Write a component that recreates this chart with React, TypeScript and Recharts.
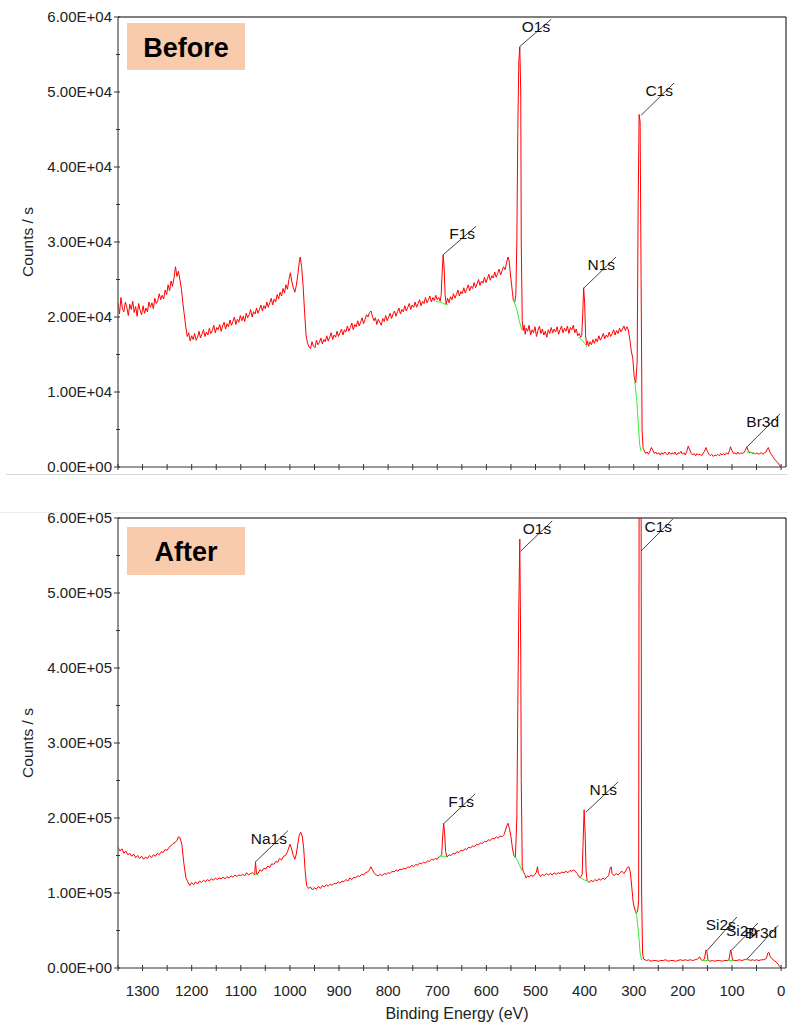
import React from "react";
import { LineChart, Line, XAxis, YAxis, ReferenceLine } from "recharts";

// XPS survey spectra, binding energy (eV) vs counts / s
const beforeSpectrum: [number, number][] = [
  [1350, 21900], [1347, 20400], [1344, 22600], [1341, 21100], [1338, 20700], [1335, 22000], [1332, 21300],
  [1329, 20200], [1326, 21700], [1323, 21000], [1320, 22100], [1317, 20600], [1314, 21400], [1311, 20100],
  [1308, 21800], [1305, 20900], [1302, 20300], [1299, 21500], [1296, 20500], [1293, 21200], [1290, 20700],
  [1287, 22000], [1284, 21300], [1281, 21900], [1278, 21100], [1275, 22500], [1272, 21800], [1269, 22200],
  [1266, 23100], [1263, 22300], [1260, 22900], [1257, 22400], [1254, 23600], [1251, 23000], [1248, 24300],
  [1245, 23500], [1242, 24800], [1239, 24100], [1236, 25200], [1233, 26700], [1230, 25400], [1227, 26100],
  [1224, 25000], [1221, 23800], [1218, 21900], [1215, 20300], [1212, 18700], [1209, 17400], [1206, 17900],
  [1203, 16800], [1200, 17500], [1197, 17000], [1194, 17800], [1191, 16900], [1188, 17300], [1185, 18100],
  [1182, 17200], [1179, 17700], [1176, 18300], [1173, 17400], [1170, 18000], [1167, 17600], [1164, 18500],
  [1161, 17800], [1158, 18200], [1155, 18900], [1152, 17900], [1149, 18600], [1146, 18300], [1143, 19000],
  [1140, 18100], [1137, 18800], [1134, 19300], [1131, 18400], [1128, 19100], [1125, 18700], [1122, 19600],
  [1119, 18900], [1116, 19400], [1113, 20000], [1110, 19000], [1107, 19700], [1104, 19300], [1101, 20200],
  [1098, 19500], [1095, 20100], [1092, 19400], [1089, 20500], [1086, 19900], [1083, 20300], [1080, 21000],
  [1077, 20000], [1074, 20700], [1071, 20400], [1068, 21200], [1065, 20500], [1062, 21000], [1059, 21600],
  [1056, 20800], [1053, 21500], [1050, 21100], [1047, 22000], [1044, 21300], [1041, 21900], [1038, 22500],
  [1035, 21600], [1032, 22400], [1029, 22000], [1026, 23000], [1023, 22400], [1020, 23300], [1017, 22800],
  [1014, 23800], [1011, 23200], [1008, 24300], [1005, 23700], [1002, 25000], [999, 25900], [996, 24700],
  [993, 23900], [990, 23300], [987, 24200], [984, 25600], [981, 27300], [979, 28000], [976, 26600],
  [973, 24000], [970, 20500], [967, 17500], [964, 16500], [961, 16000], [958, 15800], [955, 16700],
  [952, 16100], [949, 15900], [946, 16900], [943, 16300], [940, 16600], [937, 17200], [934, 16400],
  [931, 17000], [928, 16700], [925, 17500], [922, 16800], [919, 17300], [916, 17900], [913, 17000],
  [910, 17600], [907, 17300], [904, 18100], [901, 17400], [898, 17900], [895, 18400], [892, 17600],
  [889, 18300], [886, 18000], [883, 18800], [880, 18100], [877, 18600], [874, 19200], [871, 18300],
  [868, 19000], [865, 18700], [862, 19500], [859, 18800], [856, 19300], [853, 19900], [850, 19100],
  [847, 19700], [844, 20300], [841, 20000], [838, 20600], [835, 20800], [832, 20100], [829, 19500],
  [826, 19900], [823, 19000], [820, 19700], [817, 19300], [814, 18900], [811, 19800], [808, 19400],
  [805, 20200], [802, 19500], [799, 20000], [796, 20500], [793, 19800], [790, 20400], [787, 20800],
  [784, 20100], [781, 20700], [778, 21200], [775, 20400], [772, 21000], [769, 20700], [766, 21500],
  [763, 20800], [760, 21300], [757, 21800], [754, 21000], [751, 21600], [748, 21300], [745, 22000],
  [742, 21300], [739, 21800], [736, 22300], [733, 21500], [730, 22100], [727, 21800], [724, 22600],
  [721, 21900], [718, 22300], [715, 22800], [712, 22000], [709, 22600], [706, 22200], [703, 22900],
  [700, 22300], [697, 22600], [694, 22100], [692, 23000], [690, 26000], [688, 28300], [686, 26500],
  [684, 23000], [682, 21700], [679, 22500], [676, 21900], [673, 22700], [670, 22300], [667, 23100],
  [664, 22500], [661, 23000], [658, 23600], [655, 22800], [652, 23400], [649, 23100], [646, 23900],
  [643, 23200], [640, 23700], [637, 24300], [634, 23500], [631, 24100], [628, 23800], [625, 24600],
  [622, 23900], [619, 24400], [616, 25000], [613, 24200], [610, 24800], [607, 24500], [604, 25300],
  [601, 24600], [598, 25100], [595, 25700], [592, 24900], [589, 25500], [586, 25200], [583, 26000],
  [580, 25300], [577, 25800], [574, 26400], [571, 25600], [568, 26200], [565, 26700], [562, 26300],
  [559, 27200], [556, 28000], [554, 27600], [552, 26300], [549, 24500], [547, 23300], [545, 22200],
  [542, 22000], [540, 23000], [538, 30000], [536, 45000], [534, 54000], [532, 56000], [530, 50000],
  [529, 30000], [527, 19500], [525, 18200], [523, 18900], [521, 17700], [519, 18500], [516, 18100],
  [513, 18900], [510, 17600], [507, 18300], [504, 17900], [501, 18700], [498, 17400], [495, 18200],
  [492, 18800], [489, 17800], [486, 18400], [483, 17600], [480, 18100], [477, 17300], [474, 18300],
  [471, 17800], [468, 18600], [465, 17900], [462, 18400], [459, 18000], [456, 18700], [453, 17700],
  [450, 18300], [447, 18800], [444, 17900], [441, 18500], [438, 18100], [435, 18800], [432, 17800],
  [429, 18600], [426, 18300], [423, 18900], [420, 17900], [417, 18400], [414, 17500], [411, 17800],
  [408, 17300], [406, 17500], [404, 20000], [402, 23900], [400, 22000], [398, 17500], [396, 16300],
  [394, 16800], [392, 16100], [389, 16700], [386, 16300], [383, 17000], [380, 16500], [377, 17100],
  [374, 16700], [371, 17500], [368, 16900], [365, 17300], [362, 17800], [359, 17100], [356, 17600],
  [353, 17300], [350, 18000], [347, 17400], [344, 17800], [341, 18300], [338, 17600], [335, 18200],
  [332, 17800], [329, 18500], [326, 18000], [323, 18400], [320, 18800], [317, 18200], [314, 18700],
  [311, 18300], [308, 17000], [305, 15500], [302, 14500], [299, 12000], [296, 11200], [293, 14000],
  [291, 35000], [289, 47000], [287, 46000], [285, 25000], [283, 5000], [281, 2500], [278, 2100],
  [276, 1800], [273, 2000], [270, 1700], [267, 2100], [264, 2600], [261, 2200], [258, 1800],
  [255, 2000], [252, 1700], [249, 1900], [246, 1600], [243, 1900], [240, 1700], [237, 2000],
  [234, 1800], [231, 1600], [228, 2000], [225, 1700], [222, 1900], [219, 1700], [216, 2000],
  [213, 1600], [210, 1900], [207, 1800], [204, 2100], [201, 1700], [198, 1900], [195, 1600],
  [192, 2100], [189, 2800], [186, 2300], [183, 1800], [180, 1600], [177, 1800], [174, 1500],
  [171, 1800], [168, 1600], [165, 1700], [162, 1500], [159, 1800], [156, 2100], [153, 2600],
  [150, 2100], [147, 1700], [144, 1500], [141, 1700], [138, 1400], [135, 1600], [132, 1500],
  [129, 1700], [126, 1500], [123, 1800], [120, 1600], [117, 1800], [114, 1600], [111, 1900],
  [108, 1700], [105, 2200], [103, 2700], [100, 2200], [97, 1800], [94, 1900], [91, 1700],
  [88, 2000], [85, 1700], [82, 1900], [79, 1800], [76, 1900], [73, 2200], [70, 2700], [67, 2200],
  [64, 1900], [61, 2000], [58, 1800], [55, 1900], [52, 1700], [49, 1900], [46, 1700], [43, 1800],
  [40, 1900], [37, 1700], [34, 1900], [31, 2000], [28, 2400], [26, 2600], [23, 2000], [20, 1700],
  [17, 1400], [14, 1100], [10, 800], [7, 600], [4, 300], [2, 100], [0, 0],
];

const afterSpectrum: [number, number][] = [
  [1350, 161000], [1346, 156000], [1342, 159000], [1338, 153000], [1334, 156000], [1330, 151000],
  [1326, 153000], [1322, 149000], [1318, 152000], [1314, 147000], [1310, 150000], [1306, 146000],
  [1302, 149000], [1298, 145000], [1294, 148000], [1290, 146000], [1286, 150000], [1282, 147000],
  [1278, 151000], [1274, 149000], [1270, 153000], [1266, 151000], [1262, 155000], [1258, 154000],
  [1254, 158000], [1250, 157000], [1246, 161000], [1242, 163000], [1238, 166000], [1234, 167000],
  [1230, 170000], [1227, 175000], [1224, 174000], [1220, 165000], [1216, 140000], [1212, 121000],
  [1208, 115000], [1204, 110000], [1200, 114000], [1196, 111000], [1192, 115000], [1188, 112000],
  [1184, 116000], [1180, 114000], [1176, 117000], [1172, 115000], [1168, 118000], [1164, 116000],
  [1160, 119000], [1156, 117000], [1152, 120000], [1148, 118000], [1144, 120000], [1140, 119000],
  [1136, 121000], [1132, 119000], [1128, 122000], [1124, 120000], [1120, 123000], [1116, 121000],
  [1112, 124000], [1108, 122000], [1104, 124000], [1100, 123000], [1096, 125000], [1092, 123000],
  [1088, 127000], [1084, 124000], [1080, 126000], [1076, 127000], [1072, 124000], [1070, 141000],
  [1068, 126000], [1065, 126000], [1061, 131000], [1057, 129000], [1053, 133000], [1049, 132000],
  [1045, 136000], [1041, 134000], [1037, 139000], [1033, 138000], [1029, 142000], [1025, 141000],
  [1021, 146000], [1017, 144000], [1013, 149000], [1009, 150000], [1005, 155000], [1000, 165000],
  [997, 160000], [993, 150000], [990, 145000], [987, 152000], [984, 165000], [981, 177000],
  [978, 181000], [975, 176000], [972, 160000], [969, 130000], [966, 110000], [962, 106000],
  [958, 108000], [954, 104000], [950, 107000], [946, 105000], [942, 109000], [938, 106000],
  [934, 110000], [930, 108000], [926, 111000], [922, 109000], [918, 112000], [914, 110000],
  [910, 113000], [906, 112000], [902, 115000], [898, 113000], [894, 116000], [890, 115000],
  [886, 118000], [882, 116000], [878, 120000], [874, 118000], [870, 121000], [866, 120000],
  [862, 123000], [858, 122000], [854, 125000], [850, 124000], [846, 127000], [842, 128000],
  [838, 131000], [835, 135000], [832, 131000], [828, 126000], [824, 124000], [820, 123000],
  [816, 125000], [812, 123000], [808, 126000], [804, 125000], [800, 127000], [796, 126000],
  [792, 129000], [788, 128000], [784, 131000], [780, 129000], [776, 132000], [772, 131000],
  [768, 133000], [764, 132000], [760, 135000], [756, 134000], [752, 137000], [748, 135000],
  [744, 138000], [740, 137000], [736, 140000], [732, 139000], [728, 141000], [724, 140000],
  [720, 143000], [716, 142000], [712, 145000], [708, 144000], [704, 146000], [700, 145000],
  [697, 148000], [694, 149000], [691, 151000], [689, 175000], [687, 193000], [685, 180000],
  [683, 155000], [680, 148000], [676, 151000], [672, 150000], [668, 153000], [664, 152000],
  [660, 155000], [656, 154000], [652, 157000], [648, 156000], [644, 159000], [640, 158000],
  [636, 161000], [632, 160000], [628, 163000], [624, 162000], [620, 165000], [616, 164000],
  [612, 167000], [608, 166000], [604, 169000], [600, 168000], [596, 171000], [592, 170000],
  [588, 173000], [584, 172000], [580, 175000], [576, 173000], [572, 176000], [568, 175000],
  [564, 178000], [561, 184000], [558, 190000], [556, 193000], [553, 186000], [550, 175000],
  [547, 160000], [544, 150000], [541, 147000], [538, 200000], [536, 350000], [534, 480000],
  [532, 572000], [530, 420000], [529, 250000], [527, 135000], [525, 129000], [522, 125000],
  [519, 120000], [516, 123000], [513, 121000], [509, 124000], [505, 122000], [501, 125000],
  [498, 128000], [496, 135000], [494, 126000], [490, 122000], [486, 125000], [482, 123000],
  [478, 126000], [474, 124000], [470, 126000], [466, 124000], [462, 127000], [458, 125000],
  [454, 127000], [450, 126000], [446, 128000], [442, 127000], [438, 129000], [434, 127000],
  [430, 130000], [426, 129000], [422, 131000], [418, 128000], [415, 126000], [412, 122000],
  [408, 121000], [405, 125000], [403, 170000], [401, 211000], [399, 180000], [397, 130000],
  [395, 117000], [391, 114000], [387, 117000], [383, 115000], [379, 118000], [375, 116000],
  [371, 119000], [367, 117000], [363, 120000], [359, 118000], [355, 121000], [351, 123000],
  [348, 133000], [346, 135000], [344, 126000], [340, 123000], [336, 126000], [332, 124000],
  [328, 127000], [324, 129000], [320, 126000], [316, 130000], [313, 134000], [310, 135000],
  [307, 128000], [304, 108000], [301, 87000], [298, 78000], [295, 73000], [292, 76000],
  [290, 90000], [289, 650000], [285, 650000], [284, 100000], [282, 20000], [280, 12000],
  [277, 11000], [274, 10000], [270, 11000], [265, 9000], [260, 10000], [255, 10000], [250, 9000],
  [245, 10000], [240, 10000], [235, 11000], [230, 9000], [225, 10000], [220, 10000], [215, 9000],
  [210, 10000], [205, 11000], [200, 10000], [195, 11000], [190, 10000], [185, 11000], [180, 10000],
  [175, 11000], [170, 12000], [166, 15000], [163, 11000], [160, 10000], [156, 12000], [153, 24000],
  [151, 22000], [149, 11000], [145, 9000], [140, 10000], [135, 9000], [130, 10000], [125, 10000],
  [120, 9000], [115, 10000], [110, 10000], [106, 11000], [103, 24000], [101, 20000], [99, 11000],
  [95, 10000], [90, 10000], [85, 11000], [80, 10000], [75, 11000], [70, 12000], [66, 11000],
  [62, 10000], [58, 11000], [54, 10000], [50, 11000], [45, 10000], [40, 11000], [35, 11000],
  [30, 13000], [27, 20000], [25, 21000], [22, 15000], [18, 12000], [14, 10000], [10, 8000],
  [6, 5000], [3, 2000], [0, 0],
];

// fitted backgrounds under the labelled peaks (green)
const beforeBackgrounds: [number, number][][] = [
  [[703, 22100], [696, 22000], [690, 21900], [684, 21700], [678, 21600]],
  [[545, 22300], [538, 21000], [533, 19500], [528, 18300]],
  [[413, 17300], [406, 17000], [400, 16500], [395, 16000]],
  [[298, 11500], [294, 9000], [291, 6000], [288, 3000], [285, 2100]],
  [[70, 2000], [64, 1900], [57, 1900]],
];

const afterBackgrounds: [number, number][][] = [
  [[1074, 126000], [1070, 125000], [1064, 124000]],
  [[697, 149000], [690, 149000], [684, 149000], [680, 148000]],
  [[544, 150000], [538, 145000], [533, 138000], [527, 129000]],
  [[412, 121000], [405, 119000], [399, 117000], [395, 116000]],
  [[297, 80000], [294, 70000], [290, 45000], [287, 20000], [284, 11000]],
  [[160, 10000], [154, 10000], [148, 10000]],
  [[108, 10000], [103, 10000], [98, 10000]],
  [[72, 11000], [67, 11000], [62, 11000]],
];

// peak labels: leader line from peak to label corner
const beforePeaks = [
  { name: "O1s", x1: 533, y1: 56000, x2: 468, y2: 59700 },
  { name: "C1s", x1: 285, y1: 46900, x2: 218, y2: 51200 },
  { name: "F1s", x1: 688, y1: 28300, x2: 621, y2: 32100 },
  { name: "N1s", x1: 401, y1: 23900, x2: 336, y2: 28000 },
  { name: "Br3d", x1: 69, y1: 2700, x2: 2, y2: 7100 },
];

const afterPeaks = [
  { name: "O1s", x1: 530, y1: 556000, x2: 466, y2: 596000 },
  { name: "C1s", x1: 285, y1: 556000, x2: 220, y2: 599000 },
  { name: "F1s", x1: 686, y1: 193000, x2: 623, y2: 232000 },
  { name: "N1s", x1: 397, y1: 208000, x2: 332, y2: 248000 },
  { name: "Na1s", x1: 1071, y1: 141000, x2: 1004, y2: 183000 },
  { name: "Si2s", x1: 151, y1: 23000, x2: 90, y2: 68000 },
  { name: "Si2p", x1: 102, y1: 23000, x2: 47, y2: 60000 },
  { name: "Br3d", x1: 69, y1: 12000, x2: 6, y2: 57000 },
];

const xTicks = [
  0, 50, 100, 150, 200, 250, 300, 350, 400, 450, 500, 550, 600, 650,
  700, 750, 800, 850, 900, 950, 1000, 1050, 1100, 1150, 1200, 1250, 1300, 1350,
];
const beforeYTicks = [0, 5000, 10000, 15000, 20000, 25000, 30000, 35000, 40000, 45000, 50000, 55000, 60000];
const afterYTicks = [0, 50000, 100000, 150000, 200000, 250000, 300000, 350000, 400000, 450000, 500000, 550000, 600000];

const FONT = '"Liberation Sans", Arial, sans-serif';

const toPoints = (arr: [number, number][]) => arr.map(([x, y]) => ({ x, y }));

function sci(v: number) {
  const [m, e] = v.toExponential(2).split("e");
  const n = parseInt(e, 10);
  const sign = n < 0 ? "-" : "+";
  return `${m}E${sign}${String(Math.abs(n)).padStart(2, "0")}`;
}

const makeYTick = (major: number) => (props: any) => {
  const { x, y, payload } = props;
  const isMajor = payload.value % major === 0;
  return (
    <g>
      <line x1={isMajor ? x - 4 : x - 2} x2={x + 2} y1={y} y2={y} stroke="#333" strokeWidth={1} />
      {isMajor && (
        <text x={x - 6} y={y + 5} textAnchor="end" fontSize={15} fill="#222" fontFamily={FONT}>
          {sci(payload.value)}
        </text>
      )}
    </g>
  );
};

const makeXTick = (showLabels: boolean) => (props: any) => {
  const { x, y, payload } = props;
  return (
    <g>
      <line x1={x} x2={x} y1={y - 3} y2={y + 3} stroke="#333" strokeWidth={1} />
      {showLabels && payload.value % 100 === 0 && (
        <text x={x} y={y + 28} textAnchor="middle" fontSize={15} fill="#222" fontFamily={FONT}>
          {payload.value}
        </text>
      )}
    </g>
  );
};

const makeAnnot = (name: string) => (props: any) => {
  const { x1, y1, x2, y2 } = props;
  return (
    <g>
      <line x1={x1} y1={y1} x2={x2} y2={y2} stroke="#444" strokeWidth={1} />
      <text x={x2 - 1} y={y2 + 13} textAnchor="end" fontSize={15.5} fill="#111" fontFamily={FONT}>
        {name}
      </text>
    </g>
  );
};

function Spectrum({ spectrum, backgrounds, peaks, yTicks, yMax, major, top, height, marginTop, xAxisHeight, showXLabels }: any) {
  return (
    <div style={{ position: "absolute", left: 0, top }}>
      <LineChart width={788} height={height} margin={{ top: marginTop, right: 2, bottom: 0, left: 0 }}>
        <XAxis
          type="number"
          dataKey="x"
          domain={[-10, 1350]}
          reversed
          ticks={xTicks}
          interval={0}
          height={xAxisHeight}
          tickSize={0}
          tickMargin={0}
          tickLine={false}
          axisLine={{ stroke: "#333" }}
          tick={makeXTick(showXLabels)}
        />
        <YAxis
          type="number"
          dataKey="y"
          domain={[0, yMax]}
          allowDataOverflow
          ticks={yTicks}
          interval={0}
          width={118}
          tickSize={0}
          tickMargin={0}
          tickLine={false}
          axisLine={{ stroke: "#6e6e6e", strokeWidth: 1.5 }}
          tick={makeYTick(major)}
        />
        <ReferenceLine y={yMax} stroke="#000" />
        <ReferenceLine x={-10} stroke="#000" />
        <Line
          data={toPoints(spectrum)}
          dataKey="y"
          type="linear"
          stroke="#ff0000"
          strokeWidth={1}
          dot={false}
          isAnimationActive={false}
        />
        {backgrounds.map((bg: [number, number][], i: number) => (
          <Line
            key={`bg-${i}`}
            data={toPoints(bg)}
            dataKey="y"
            type="linear"
            stroke="#33ee33"
            strokeWidth={1}
            dot={false}
            isAnimationActive={false}
          />
        ))}
        {peaks.map((p: any) => (
          <ReferenceLine
            key={p.name}
            segment={[{ x: p.x1, y: p.y1 }, { x: p.x2, y: p.y2 }]}
            ifOverflow="visible"
            shape={makeAnnot(p.name)}
          />
        ))}
      </LineChart>
    </div>
  );
}

export default function App() {
  return (
    <div
      style={{
        position: "fixed",
        left: 0,
        top: 0,
        width: 788,
        height: 1023,
        overflow: "hidden",
        background: "#fff",
        fontFamily: FONT,
      }}
    >
      <div style={{ position: "absolute", left: 6, top: 474, width: 782, height: 1, background: "#d9d9d9" }} />
      <div style={{ position: "absolute", left: 0, top: 512, width: 788, height: 1, background: "#ececec" }} />
      <Spectrum
        spectrum={beforeSpectrum}
        backgrounds={beforeBackgrounds}
        peaks={beforePeaks}
        yTicks={beforeYTicks}
        yMax={60000}
        major={10000}
        top={0}
        height={474}
        marginTop={17}
        xAxisHeight={7}
        showXLabels={false}
      />
      <Spectrum
        spectrum={afterSpectrum}
        backgrounds={afterBackgrounds}
        peaks={afterPeaks}
        yTicks={afterYTicks}
        yMax={600000}
        major={100000}
        top={498}
        height={525}
        marginTop={20}
        xAxisHeight={55}
        showXLabels={true}
      />
      <svg width={788} height={1023} style={{ position: "absolute", left: 0, top: 0, pointerEvents: "none" }}>
        <rect x={127} y={23} width={118} height={47} fill="#f8cbad" />
        <text x={186} y={57} textAnchor="middle" fontSize={27} fontWeight="bold" fill="#000" fontFamily={FONT}>
          Before
        </text>
        <rect x={127} y={527} width={118} height={48} fill="#f8cbad" />
        <text x={186} y={561} textAnchor="middle" fontSize={27} fontWeight="bold" fill="#000" fontFamily={FONT}>
          After
        </text>
        <text transform="translate(33,242) rotate(-90)" textAnchor="middle" fontSize={15.5} fill="#222" fontFamily={FONT}>
          Counts / s
        </text>
        <text transform="translate(33,743) rotate(-90)" textAnchor="middle" fontSize={15.5} fill="#222" fontFamily={FONT}>
          Counts / s
        </text>
        <text x={457} y={1019} textAnchor="middle" fontSize={16} fill="#222" fontFamily={FONT}>
          Binding Energy (eV)
        </text>
      </svg>
    </div>
  );
}
